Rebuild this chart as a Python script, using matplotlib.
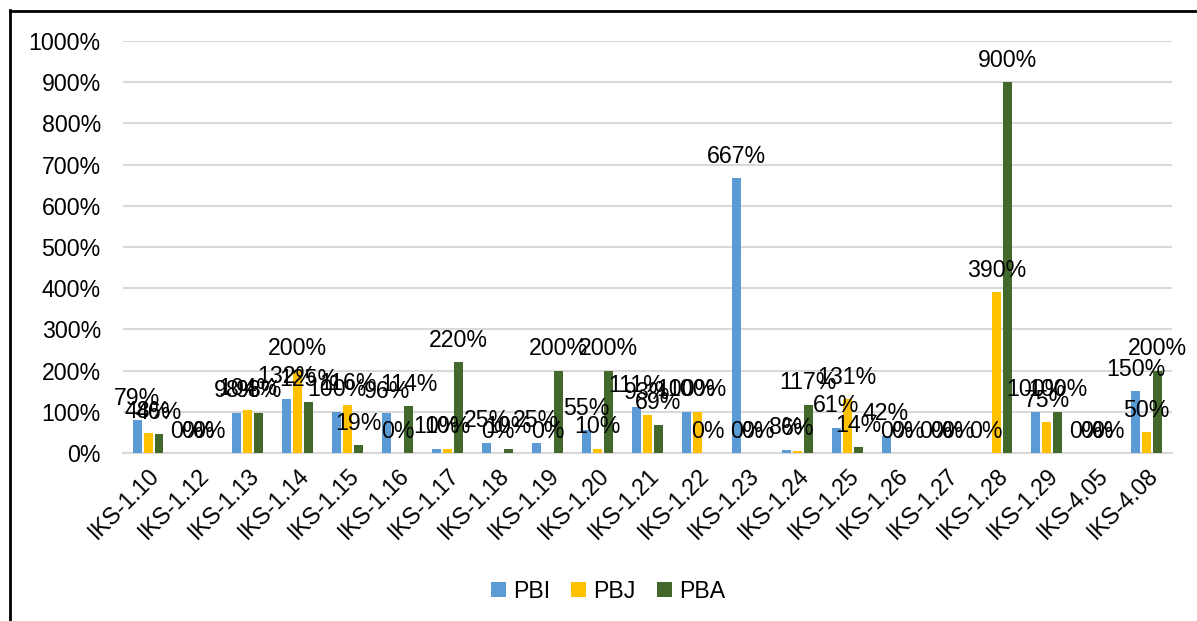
import numpy as np
import matplotlib
matplotlib.use("Agg")
import matplotlib.pyplot as plt
import matplotlib.ticker as mtick
from matplotlib.lines import Line2D

plt.rcParams['font.family'] = ['Liberation Sans', 'DejaVu Sans']

categories = ['IKS-1.10', 'IKS-1.12', 'IKS-1.13', 'IKS-1.14', 'IKS-1.15', 'IKS-1.16',
              'IKS-1.17', 'IKS-1.18', 'IKS-1.19', 'IKS-1.20', 'IKS-1.21', 'IKS-1.22',
              'IKS-1.23', 'IKS-1.24', 'IKS-1.25', 'IKS-1.26', 'IKS-1.27', 'IKS-1.28',
              'IKS-1.29', 'IKS-4.05', 'IKS-4.08']
pbi = [79, 0, 98, 132, 100, 96, 10, 25, 25, 55, 111, 100, 667, 8, 61, 42, 0, 0, 100, 0, 150]
pbj = [48, 0, 104, 200, 116, 0, 10, 0, 0, 10, 93, 100, 0, 6, 131, 0, 0, 390, 75, 0, 50]
pba = [46, 0, 98, 125, 19, 114, 220, 10, 200, 200, 69, 0, 0, 117, 14, 0, 0, 900, 100, 0, 200]

series = [('PBI', pbi, '#5B9BD5'), ('PBJ', pbj, '#FFC000'), ('PBA', pba, '#43682B')]

fig = plt.figure(figsize=(11.97, 6.21), dpi=100)
ax = fig.add_axes([0.1028, 0.2705, 0.876, 0.6635])

x = np.arange(len(categories))
width = 0.18
offsets = [-0.22, 0, 0.22]
fs = 16.7

for (name, vals, color), off in zip(series, offsets):
    bars = ax.bar(x + off, vals, width, color=color, label=name, zorder=3)
    for b, v in zip(bars, vals):
        ax.annotate(f"{v}%", (b.get_x() + b.get_width() / 2, v),
                    xytext=(0, 7.5), textcoords='offset points',
                    ha='center', va='bottom', fontsize=fs, zorder=4)

ax.set_ylim(0, 1000)
ax.set_xlim(-0.5, len(categories) - 0.5)
ax.set_yticks(np.arange(0, 1001, 100))
ax.yaxis.set_major_formatter(mtick.StrMethodFormatter('{x:.0f}%'))
ax.grid(axis='y', color='#D9D9D9', linewidth=1.5, zorder=0)
for s in ['top', 'right', 'left']:
    ax.spines[s].set_visible(False)
ax.spines['bottom'].set_color('#D9D9D9')
ax.spines['bottom'].set_linewidth(1.5)
ax.tick_params(axis='both', length=0, labelsize=fs)
ax.tick_params(axis='y', pad=16)
ax.set_xticks(x)
ax.set_xticklabels(categories, rotation=45, ha='right', va='top', rotation_mode='anchor')
ax.tick_params(axis='x', pad=8)

ax.legend(loc='center', bbox_to_anchor=(0.508, 0.048), bbox_transform=fig.transFigure,
          ncol=3, frameon=False, fontsize=fs, handlelength=0.65, handleheight=0.65,
          handletextpad=0.3, columnspacing=0.9)

# outer frame (left and top edges)
fig.add_artist(Line2D([10 / 1197, 10 / 1197], [0, 1 - 10 / 621], transform=fig.transFigure,
                      color='black', linewidth=2))
fig.add_artist(Line2D([10 / 1197, 1], [1 - 11 / 621, 1 - 11 / 621], transform=fig.transFigure,
                      color='black', linewidth=2))

fig.savefig('out.png', dpi=100)
